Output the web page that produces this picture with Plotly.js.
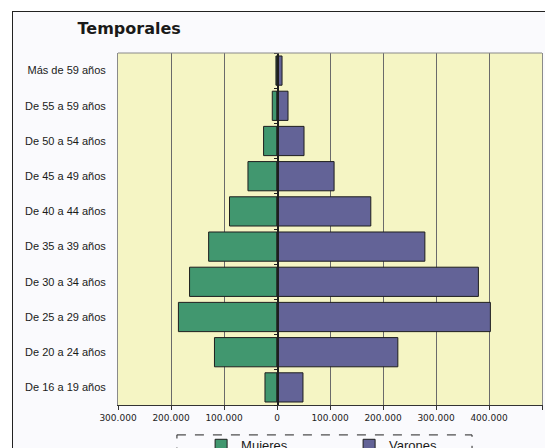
<!DOCTYPE html>
<html>
<head>
<meta charset="utf-8">
<script src="https://cdn.plot.ly/plotly-3.0.1.min.js"></script>
<style>
  html, body { margin: 0; padding: 0; background: #ffffff; }
  #wrap { position: relative; width: 545px; height: 448px; overflow: hidden; background: #ffffff; }
  #frame { position: absolute; left: 12px; top: 11px; width: 560px; height: 460px;
           border: 1px solid #222; background: #fafafd; box-sizing: border-box; }
  #chart { position: absolute; left: 0; top: 0; width: 545px; height: 448px; }
</style>
</head>
<body>
<div id="wrap">
  <div id="frame"></div>
  <div id="chart"></div>
</div>
<script>
// Categories from bottom to top
const categories = [
  'De 16 a 19 años', 'De 20 a 24 años', 'De 25 a 29 años', 'De 30 a 34 años',
  'De 35 a 39 años', 'De 40 a 44 años', 'De 45 a 49 años', 'De 50 a 54 años',
  'De 55 a 59 años', 'Más de 59 años'
];
// Values (Mujeres shown to the left as negatives)
const mujeres = [22700, 118000, 186000, 165000, 129000, 89600, 54800, 25300, 8900, 2000];
const varones = [49000, 228000, 402600, 380000, 279000, 177000, 107700, 51000, 20800, 9500];

const tickVals = [-300000, -200000, -100000, 0, 100000, 200000, 300000, 400000, 500000];
const tickText = ['300.000', '200.000', '100.000', '0', '100.000', '200.000', '300.000', '400.000', ''];

const traces = [
  {
    type: 'bar', orientation: 'h', name: 'Mujeres',
    y: categories, x: mujeres.map(v => -v),
    marker: { color: '#41976f', line: { color: '#1e1e1e', width: 1 } },
    xaxis: 'x', yaxis: 'y'
  },
  {
    type: 'bar', orientation: 'h', name: 'Varones',
    y: categories, x: varones,
    marker: { color: '#636397', line: { color: '#1e1e1e', width: 1 } },
    xaxis: 'x', yaxis: 'y2'
  }
];

const xmin = -300000, xmax = 500000;
const zeroPos = (0 - xmin) / (xmax - xmin);

const layout = {
  width: 545, height: 448,
  margin: { l: 118, r: 3, t: 53, b: 43, autoexpand: false },
  paper_bgcolor: 'rgba(0,0,0,0)',
  plot_bgcolor: '#f5f5c4',
  showlegend: true,
  bargap: 0.17,
  title: {
    text: '<b>Temporales</b>',
    font: { family: 'DejaVu Sans', size: 16, color: '#1a1a1a' },
    xref: 'container', yref: 'container',
    x: 0.237, xanchor: 'center', y: 0.937, yanchor: 'middle'
  },
  xaxis: {
    range: [xmin, xmax],
    tickvals: tickVals, ticktext: tickText,
    showgrid: true, gridcolor: '#6a6a6a', gridwidth: 1,
    zeroline: false,
    showline: true, linecolor: '#333', linewidth: 1,
    ticks: 'outside', ticklen: 4, tickcolor: '#333',
    tickfont: { family: 'DejaVu Sans', size: 9, color: '#222' },
    fixedrange: true
  },
  yaxis: {
    type: 'category', categoryarray: categories,
    range: [-0.5, categories.length - 0.5],
    showgrid: false, zeroline: false,
    showline: true, linecolor: '#8a8a8a', linewidth: 1, mirror: true,
    ticks: '', ticklabelstandoff: 9,
    tickfont: { family: 'Liberation Sans', size: 11, color: '#1a1a1a' },
    fixedrange: true
  },
  yaxis2: {
    type: 'category', categoryarray: categories,
    matches: 'y',
    overlaying: 'y', anchor: 'free', position: zeroPos, side: 'left',
    showgrid: false, zeroline: false,
    showline: true, linecolor: '#1e1e1e', linewidth: 1.5,
    ticks: 'outside', ticklen: 3, tickcolor: '#1e1e1e', tickson: 'boundaries',
    showticklabels: false,
    fixedrange: true
  },
  legend: {
    orientation: 'h',
    x: 0.196, xanchor: 'left',
    y: -0.072, yanchor: 'top',
    entrywidth: 103,
    font: { family: 'Liberation Sans', size: 13, color: '#1a1a1a' },
    bgcolor: 'rgba(0,0,0,0)'
  },
  shapes: [
    { type: 'line', xref: 'paper', yref: 'paper', x0: 0, x1: 1, y0: 1, y1: 1,
      line: { color: '#8a8a8a', width: 1 } },
    { type: 'rect', xref: 'paper', yref: 'paper',
      x0: 0.139, x1: 0.835, y0: -0.085, y1: -0.3,
      line: { color: '#222', width: 1, dash: 'dash' } }
  ]
};

Plotly.newPlot('chart', traces, layout, { displayModeBar: false, staticPlot: true });
</script>
</body>
</html>
